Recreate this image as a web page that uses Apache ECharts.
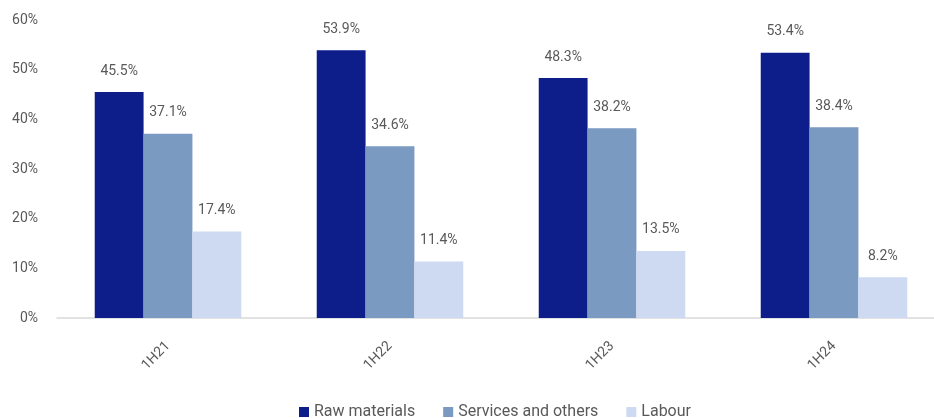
<!DOCTYPE html>
<html>
<head>
<meta charset="utf-8">
<script src="https://cdn.jsdelivr.net/npm/echarts@6/dist/echarts.min.js"></script>
<style>
  html, body { margin: 0; padding: 0; background: #fff; }
  #chart { width: 934px; height: 418px; }
</style>
</head>
<body>
<div id="chart"></div>
<script>
  // 数据
  const categories = ['1H21', '1H22', '1H23', '1H24']
  const rawMaterials = [45.5, 53.9, 48.3, 53.4]
  const services = [37.1, 34.6, 38.2, 38.4]
  const labour = [17.4, 11.4, 13.5, 8.2]
  const yTicks = [0, 10, 20, 30, 40, 50, 60]

  const labelStyle = {
    show: true,
    position: 'top',
    distance: 14,
    color: '#595959',
    fontSize: 14,
    formatter: p => p.value.toFixed(1) + '%'
  }

  const chart = echarts.init(document.getElementById('chart'))
  chart.setOption({
    animation: false,
    textStyle: { fontFamily: 'Roboto' },
    // 右侧超出画布，与原图一致
    grid: { left: 57, width: 888, top: 20, bottom: 100, outerBoundsMode: 'none' },
    legend: {
      top: 399,
      left: 294,
      itemWidth: 10,
      itemHeight: 10,
      itemGap: 28,
      icon: 'rect',
      textStyle: { color: '#595959', fontSize: 16 },
      data: ['Raw materials', 'Services and others', 'Labour']
    },
    xAxis: {
      type: 'category',
      data: categories,
      axisTick: { show: false },
      axisLine: { lineStyle: { color: '#d9d9d9', width: 1.5 } },
      axisLabel: { rotate: 45, margin: 26, color: '#595959', fontSize: 14 }
    },
    yAxis: {
      type: 'value',
      min: yTicks[0],
      max: yTicks[yTicks.length - 1],
      interval: 10,
      splitLine: { show: false },
      axisLine: { show: false },
      axisTick: { show: false },
      axisLabel: { margin: 19, color: '#595959', fontSize: 14, formatter: '{value}%' }
    },
    series: [
      { type: 'bar', name: 'Raw materials', data: rawMaterials, barGap: '0%', barCategoryGap: '34%', itemStyle: { color: '#0d1e8a' }, label: labelStyle },
      { type: 'bar', name: 'Services and others', data: services, itemStyle: { color: '#7a9ac2' }, label: labelStyle },
      { type: 'bar', name: 'Labour', data: labour, itemStyle: { color: '#cddaf2' }, label: labelStyle }
    ]
  })
</script>
</body>
</html>
